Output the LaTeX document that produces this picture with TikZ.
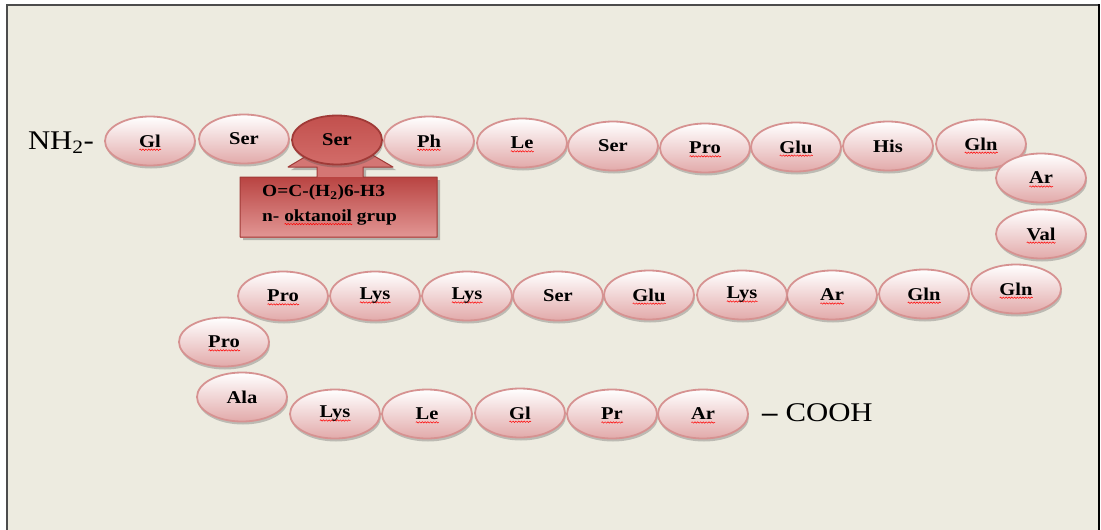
\documentclass[tikz,border=0pt]{standalone}
\usepackage{fontspec}
\setmainfont{Liberation Serif}[FakeStretch=1.14]
\usetikzlibrary{shapes.geometric,shadows,decorations.pathmorphing}
\definecolor{bg}{RGB}{237,235,224}
\definecolor{pinkB}{RGB}{226,170,170}
\definecolor{pinkD}{RGB}{214,146,145}
\definecolor{redA}{RGB}{194,80,77}
\definecolor{redB}{RGB}{210,108,105}
\definecolor{redD}{RGB}{160,58,55}
\definecolor{boxTop}{RGB}{185,68,66}
\definecolor{boxBot}{RGB}{226,150,148}
\definecolor{headC}{RGB}{212,118,116}
\newsavebox\rwbox
\newcommand\rw[1]{\sbox\rwbox{#1}\rlap{\smash{\raisebox{-3.5pt}{\tikz[x=1pt,y=1pt]{\draw[red,line width=0.5pt,decorate,decoration={snake,amplitude=0.7pt,segment length=2.8pt}] (0,0) -- (\wd\rwbox,0);}}}}\usebox\rwbox}
\tikzset{
  aa/.style={ellipse, minimum width=90pt, minimum height=49pt, inner sep=0pt,
    draw=pinkD, line width=1.8pt, top color=white, bottom color=pinkB,
    drop shadow={shadow xshift=1pt, shadow yshift=-3pt, opacity=0.3, fill=black!70},
    font=\bfseries\fontsize{18}{18}\selectfont},
  redaa/.style={aa, draw=redD, top color=redA, bottom color=redB},
  plain/.style={inner sep=0pt, font=\fontsize{27}{27}\selectfont},
  boxtext/.style={inner sep=0pt, align=left, font=\bfseries\fontsize{17}{25}\selectfont}
}
\begin{document}
\begin{tikzpicture}[x=1pt,y=-1pt]
\useasboundingbox (0,0) rectangle (1101,530);
% background frame
\fill[bg] (7,5) rectangle (1100,530);
\draw[black!70, line width=2.5pt] (7,530) -- (7,5);
\draw[black!70, line width=2pt] (6,5) -- (1099,5);
\draw[black, line width=2pt] (1099,4) -- (1099,530);

% callout arrow
\coordinate (c1) at (240,177);
\coordinate (c2) at (437,237);
\draw[drop shadow={shadow xshift=3pt, shadow yshift=-3pt, opacity=0.35, fill=black!70}, fill=headC, draw=none]
  (240,177) -- (317,177) -- (317,167) -- (288,167) -- (340,136) -- (393,167) -- (363,167) -- (363,177)
  -- (437,177) -- (437,237) -- (240,237) -- cycle;
\shade[top color=boxTop, bottom color=boxBot] (c1) rectangle (c2);
\draw[redD, line width=1pt, line join=round]
  (240,177) -- (317,177) -- (317,167) -- (288,167) -- (340,136) -- (393,167) -- (363,167) -- (363,177)
  -- (437,177) -- (437,237) -- (240,237) -- cycle;
\node[boxtext, anchor=west] (lab) at (262,205) {O=C-(H\textsubscript{2})6-H3\\n- \rw{oktanoil} grup};

% N-terminus
\node[plain] (nh) at (61,143) {NH\textsubscript{2}-};

% top row
\node[aa] (t1) at (150,141) {\rw{Gl}};
\node[aa] (t2) at (244,139) {Ser};
\node[redaa] (t3) at (337,140) {Ser};
\node[aa] (t4) at (429,141) {\rw{Ph}};
\node[aa] (t5) at (522,143) {\rw{Le}};
\node[aa] (t6) at (613,146) {Ser};
\node[aa] (t7) at (705,148) {\rw{Pro}};
\node[aa] (t8) at (796,147) {\rw{Glu}};
\node[aa] (t9) at (888,146) {His};
\node[aa] (t10) at (981,144) {\rw{Gln}};
\node[aa] (t11) at (1041,178) {\rw{Ar}};
\node[aa] (t12) at (1041,234) {\rw{Val}};
\node[aa] (t13) at (1016,289) {\rw{Gln}};

% second row
\node[aa] (m1) at (924,294) {\rw{Gln}};
\node[aa] (m2) at (832,295) {\rw{Ar}};
\node[aa] (m3) at (742,295) {\rw{Lys}};
\node[aa] (m4) at (649,295) {\rw{Glu}};
\node[aa] (m5) at (558,296) {Ser};
\node[aa] (m6) at (467,296) {\rw{Lys}};
\node[aa] (m7) at (375,296) {\rw{Lys}};
\node[aa] (m8) at (283,296) {\rw{Pro}};
\node[aa] (m9) at (224,342) {\rw{Pro}};
\node[aa] (m10) at (242,397) {Ala};

% bottom row
\node[aa] (b1) at (335,414) {\rw{Lys}};
\node[aa] (b2) at (427,414) {\rw{Le}};
\node[aa] (b3) at (520,413) {\rw{Gl}};
\node[aa] (b4) at (612,414) {\rw{Pr}};
\node[aa] (b5) at (703,414) {\rw{Ar}};

% C-terminus
\node[plain, anchor=west] (cooh) at (762,413) {\textbf{--} COOH};
\end{tikzpicture}
\end{document}
